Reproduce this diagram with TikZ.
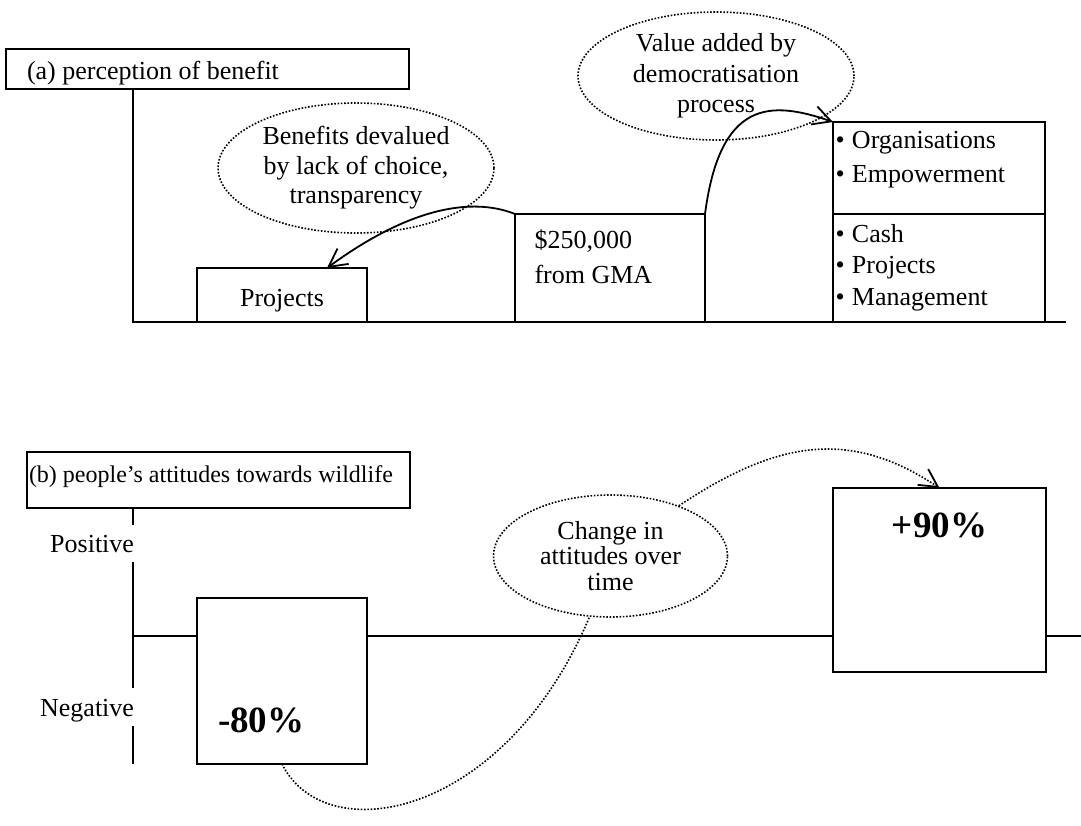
\documentclass[tikz,border=0pt]{standalone}
\usepackage{fontspec}
\setmainfont{Liberation Serif}
\usetikzlibrary{arrows.meta,shapes.geometric}
\begin{document}
\begin{tikzpicture}[x=0.5pt,y=-0.5pt,
  every node/.style={inner sep=0pt, outer sep=0pt, font=\fontsize{13}{15}\selectfont},
  frame/.style={draw, line width=1pt, fill=white, rectangle, anchor=north west},
  txt/.style={anchor=base west},
  bubble/.style={draw, ellipse, fill=white, line width=0.8pt,
    dash pattern=on 0.8pt off 0.85pt, align=center},
  axis/.style={line width=1pt},
  link/.style={line width=0.9pt, -{Straight Barb[length=9pt,width=9.5pt]}},
  dotlink/.style={line width=0.8pt, dash pattern=on 0.8pt off 0.85pt,
    -{Straight Barb[length=9pt,width=9.5pt,line width=0.9pt]}},
  big/.style={font=\fontsize{18.5}{20}\selectfont\bfseries}
]
\useasboundingbox (0,0) rectangle (1081,825);

% ---------- (a) perception of benefit ----------
\node[frame, minimum width=201.5pt, minimum height=20pt] (ta) at (6,49) {};
\node[txt] (tatext) at (27,79) {(a) perception of benefit};

\coordinate (oa) at (133,322);
\coordinate (ea) at (1066,322);
\draw[axis] (ta.south west -| oa) -- (oa) -- (ea);

\node[frame, minimum width=85pt, minimum height=27pt] (proj) at (197,268) {};
\node[anchor=base] (projtext) at (282,306) {Projects};

\node[frame, minimum width=95pt, minimum height=54pt] (gma) at (515,214) {};
\node[txt] (gmaA) at (534.5,248) {\$250,000};
\node[txt] (gmaB) at (534.5,283) {from GMA};

\node[frame, minimum width=106pt, minimum height=46pt] (soft) at (833,122) {};
\node[frame, minimum width=106pt, minimum height=54pt] (hard) at (833,214) {};
\node[txt] (b1) at (835.5,148) {\textbullet\hspace{3.7pt}Organisations};
\node[txt] (b2) at (835.5,182) {\textbullet\hspace{3.7pt}Empowerment};
\node[txt] (b3) at (835.5,242) {\textbullet\hspace{3.7pt}Cash};
\node[txt] (b4) at (835.5,273) {\textbullet\hspace{3.7pt}Projects};
\node[txt] (b5) at (835.5,305) {\textbullet\hspace{3.7pt}Management};

\node[bubble, minimum width=138pt, minimum height=65pt,
  font=\fontsize{13}{14.75}\selectfont] (e1) at (356,168)
  {Benefits devalued\\by lack of choice,\\transparency};
\node[bubble, minimum width=138pt, minimum height=64pt,
  font=\fontsize{13}{15.25}\selectfont] (e2) at (716,76)
  {Value added by\\democratisation\\process};

\coordinate (projtip) at (327,268);
\draw[link] (gma.north west) .. controls (480,200) and (420,200) .. (projtip);
\draw[link] (gma.north east) .. controls (720,100) and (770,100) .. (soft.north west);

% ---------- (b) people's attitudes towards wildlife ----------
\node[frame, minimum width=191.5pt, minimum height=28pt] (tb) at (27,452) {};
\node[txt, font=\fontsize{12}{14}\selectfont] (tbtext) at (29,482)
  {(b) people’s attitudes towards wildlife};

\coordinate (ob) at (133,636);
\coordinate (eb) at (1081,636);
\draw[axis] (tb.south west -| ob) -- (133,525);
\draw[axis] (133,562) -- (133,688);
\draw[axis] (133,726) -- (133,764);
\draw[axis] (ob) -- (eb);

\node[anchor=base east] (posl) at (134,552) {Positive};
\node[anchor=base east] (negl) at (134,716) {Negative};

\node[frame, minimum width=85pt, minimum height=83pt] (neg) at (197,598) {};
\node[txt, big] (negtext) at (218,732) {-80\%};

\node[frame, minimum width=106.5pt, minimum height=92pt] (pos) at (833,488) {};
\node[anchor=base, big] (postext) at (939.5,537) {+90\%};

\coordinate (mid3) at (610.5,556);
\draw[dotlink] (neg.south) .. controls (330,860) and (540,810) .. (mid3)
  .. controls (745,450) and (830,415) .. (pos.north);

\node[bubble, minimum width=117pt, minimum height=61pt,
  font=\fontsize{13}{12.75}\selectfont] (e3) at (mid3)
  {Change in\\attitudes over\\time};
\end{tikzpicture}
\end{document}
